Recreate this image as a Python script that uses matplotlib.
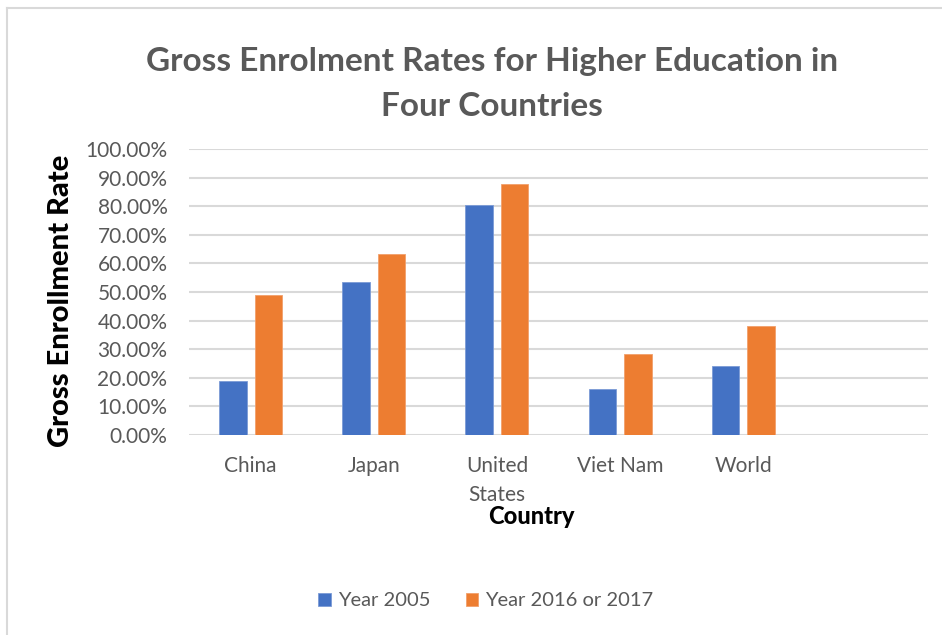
import matplotlib
matplotlib.use("Agg")
import matplotlib.pyplot as plt
from matplotlib.ticker import FuncFormatter
from matplotlib.lines import Line2D
import numpy as np

# Gross enrolment rates (%) by country
countries = ["China", "Japan", "United\nStates", "Viet Nam", "World", ""]
year_2005 = [18.8, 53.6, 80.4, 16.1, 24.2]
year_2016_17 = [48.8, 63.3, 87.9, 28.4, 38.0]
series_names = ["Year 2005", "Year 2016 or 2017"]
y_ticks = [0, 10, 20, 30, 40, 50, 60, 70, 80, 90, 100]

BLUE = "#4472C4"
ORANGE = "#ED7D31"
GRAY_TEXT = "#595959"
GRID = "#D9D9D9"
FONT = "Lato"

W, H = 942, 635
fig = plt.figure(figsize=(W / 100, H / 100), dpi=100)
fig.patch.set_facecolor("white")

# Chart-area frame (top and left edges visible)
fig.add_artist(Line2D([7 / W, 1.0], [1 - 8 / H, 1 - 8 / H], color=GRID, lw=1.5,
                      transform=fig.transFigure))
fig.add_artist(Line2D([7 / W, 7 / W], [0.0, 1 - 8 / H], color=GRID, lw=1.5,
                      transform=fig.transFigure))

left, right, bottom, top = 189, 928, 435, 149
ax = fig.add_axes([left / W, 1 - bottom / H, (right - left) / W, (bottom - top) / H])

x = np.arange(len(year_2005))
bw = 0.224
off = 0.144
ax.bar(x - off, year_2005, width=bw, color=BLUE, edgecolor="#7b9bd6", linewidth=0.6,
       label=series_names[0], zorder=3)
ax.bar(x + off, year_2016_17, width=bw, color=ORANGE, edgecolor="#f2a06b", linewidth=0.6,
       label=series_names[1], zorder=3)

ax.set_xlim(-0.5, len(countries) - 0.5)
ax.set_ylim(0, 100)
ax.set_yticks(y_ticks)
ax.yaxis.set_major_formatter(FuncFormatter(lambda v, p: f"{v:.2f}%"))
ax.grid(axis="y", color=GRID, linewidth=1.5, zorder=0)
ax.set_xticks(np.arange(len(countries)))
ax.set_xticklabels(countries, linespacing=1.6, va="top")
for s in ax.spines.values():
    s.set_visible(False)
ax.tick_params(axis="both", length=0, colors=GRAY_TEXT, labelsize=15)
ax.tick_params(axis="x", pad=15)
ax.tick_params(axis="y", pad=15.5)
for lab in ax.get_xticklabels() + ax.get_yticklabels():
    lab.set_fontfamily(FONT)

# Titles
fig.text(492 / W, 1 - 62 / H, "Gross Enrolment Rates for Higher Education in",
         ha="center", va="center", fontsize=24, fontweight="bold",
         color=GRAY_TEXT, family=FONT)
fig.text(492 / W, 1 - 106 / H, "Four Countries",
         ha="center", va="center", fontsize=24, fontweight="bold",
         color=GRAY_TEXT, family=FONT)
fig.text(61 / W, 1 - 301 / H, "Gross Enrollment Rate", rotation=90,
         ha="center", va="center", fontsize=21, fontweight="black",
         color="black", family=FONT)
fig.text(531 / W, 1 - 517 / H, "Country", ha="center", va="center",
         fontsize=17, fontweight="black", color="black", family=FONT)

leg = fig.legend(loc="center", bbox_to_anchor=(486 / W, 1 - 601 / H), ncol=2,
                 frameon=False, handlelength=0.6, handleheight=0.6,
                 handletextpad=0.35, columnspacing=1.8,
                 prop={"family": FONT, "size": 14.5})
for t in leg.get_texts():
    t.set_color(GRAY_TEXT)

fig.savefig("out.png", dpi=100)
